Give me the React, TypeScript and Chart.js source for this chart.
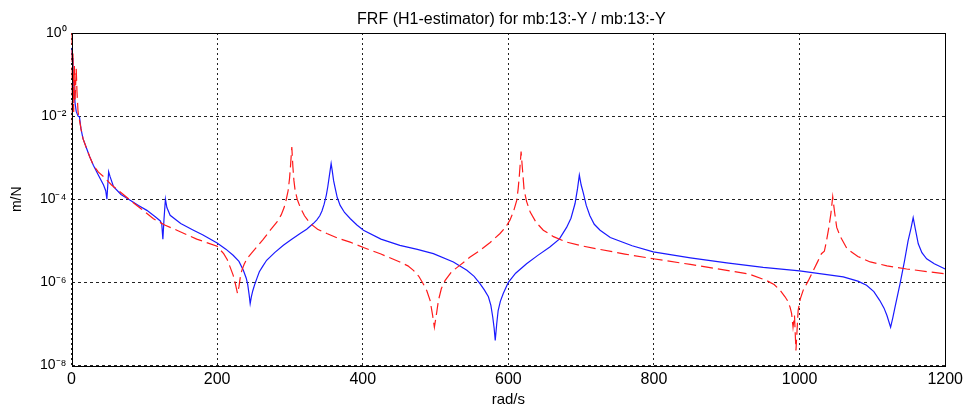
import React, { useEffect, useRef } from 'react';
import { Chart, registerables } from 'chart.js';

Chart.register(...registerables);

const titleText = 'FRF (H1-estimator) for mb:13:-Y / mb:13:-Y';
const xAxisLabel = 'rad/s';
const yAxisLabel = 'm/N';
const xTickValues = [0, 200, 400, 600, 800, 1000, 1200];
const yTickValues = [1e-8, 1e-6, 1e-4, 1e-2, 1];
const yTickLabels = ['10⁻⁸', '10⁻⁶', '10⁻⁴', '10⁻²', '10⁰'];

// blue solid curve (rad/s, m/N)
const blueFreq = [
  0, 1, 2, 3, 4, 5, 6.5, 9, 11, 13, 15.6, 20, 25, 30, 37, 44, 47, 48.6, 51, 53,
  57.7, 68, 80.6, 92, 103.5, 115, 122, 124, 125.5, 127, 129, 131, 135.5, 150, 167.5, 180,
  200, 212, 222, 230, 236, 240, 242, 244, 245.4, 247, 249, 252, 255, 258, 263, 268,
  279, 291, 302, 314, 323, 332, 337, 341, 344, 347, 350, 352, 354, 356.6, 358, 360,
  362, 365, 369, 375, 383, 392, 401, 425, 451, 475, 497, 524.5, 543, 553, 561, 567,
  572.6, 576, 578.6, 580.5, 582, 584, 586, 589, 593, 600, 610, 625, 640, 657, 670, 680,
  686, 691.6, 695, 697.5, 700, 703, 707, 712, 718, 726, 740, 770, 799, 850, 900, 950,
  1000, 1030, 1060, 1080, 1092, 1102, 1110, 1116, 1120, 1125, 1128, 1131, 1138, 1144,
  1149, 1153, 1156, 1159, 1163, 1168, 1174.5, 1185, 1200,
];
const blueMag = [
  4.4e-1, 2.5e-1, 1.2e-1, 6.3e-2, 3.2e-2, 2.0e-2, 1.3e-2, 1.0e-2, 9.5e-3, 5.0e-3, 2.95e-3, 1.8e-3, 1.05e-3, 6.6e-4, 3.8e-4, 2.2e-4, 1.6e-4, 1.0e-4, 4.6e-4, 3.5e-4,
  2.0e-4, 1.3e-4, 9.5e-5, 7.1e-5, 5.4e-5, 3.8e-5, 3.0e-5, 2.5e-5, 1.1e-5, 3.2e-5, 1.0e-4, 6.3e-5, 4.1e-5, 2.6e-5, 1.8e-5, 1.4e-5,
  8.9e-6, 6.3e-6, 4.5e-6, 3.2e-6, 1.95e-6, 1.26e-6, 8.9e-7, 5.0e-7, 3.1e-7, 4.5e-7, 6.3e-7, 9.3e-7, 1.3e-6, 1.8e-6, 2.5e-6, 3.4e-6,
  5.2e-6, 7.8e-6, 1.07e-5, 1.5e-5, 1.9e-5, 2.6e-5, 3.2e-5, 4.0e-5, 5.2e-5, 7.6e-5, 1.26e-4, 2.0e-4, 3.5e-4, 7.2e-4, 5.0e-4, 2.8e-4,
  1.9e-4, 1.1e-4, 7.1e-5, 4.8e-5, 3.4e-5, 2.4e-5, 1.8e-5, 1.1e-5, 7.8e-6, 6.2e-6, 4.9e-6, 3.1e-6, 1.95e-6, 1.4e-6, 9.3e-7, 6.6e-7,
  4.5e-7, 2.8e-7, 1.45e-7, 7.9e-8, 4.0e-8, 1.0e-7, 2.1e-7, 3.5e-7, 5.4e-7, 1.0e-6, 1.66e-6, 2.8e-6, 4.4e-6, 7.1e-6, 1.1e-5, 2.1e-5,
  3.5e-5, 7.9e-5, 1.8e-4, 3.8e-4, 2.2e-4, 1.4e-4, 7.1e-5, 4.0e-5, 2.5e-5, 1.8e-5, 1.2e-5, 7.6e-6, 5.4e-6, 3.9e-6, 2.95e-6, 2.3e-6,
  1.9e-6, 1.6e-6, 1.35e-6, 1.07e-6, 8.5e-7, 6.0e-7, 3.7e-7, 2.4e-7, 1.6e-7, 8.3e-8, 1.4e-7, 2.5e-7, 9.3e-7, 3.2e-6,
  1.0e-5, 2.0e-5, 3.6e-5, 1.9e-5, 8.5e-6, 5.2e-6, 3.7e-6, 2.8e-6, 2.1e-6,
];

// red dashed curve (rad/s, m/N)
const redFreq = [
  0, 1, 2, 3, 4, 5, 6.5, 7.5, 9, 11, 13, 16, 20, 25, 30, 37, 44, 55, 67, 80.6,
  95, 112.6, 128, 144.7, 172, 200, 209, 214, 218, 222, 225, 228, 230, 232, 234, 237,
  241, 247, 254.5, 263, 273, 282, 288, 292, 295, 297.5, 299.5, 301, 302.6, 304, 305.5, 307,
  310, 314, 320, 328, 338, 350.7, 365, 382.7, 401, 425, 451, 462, 469.6, 477, 483, 488,
  492.5, 496, 498.4, 501, 504, 508, 513, 522, 533.7, 547, 561, 575, 588.6, 596, 602, 607,
  611.6, 613.5, 615, 617.5, 619.5, 621.6, 625, 630, 638, 648, 662, 680, 700, 726, 760, 799,
  850, 900, 930, 955, 965, 973, 980, 984, 987, 989, 991, 993, 995, 997, 998, 1001,
  1005, 1012, 1019, 1025, 1030, 1034, 1037, 1040, 1043, 1045.5, 1048, 1051, 1056, 1065,
  1080, 1097, 1120, 1147, 1200,
];
const redMag = [
  1.0, 5.0e-3, 3.2e-1, 1.26e-2, 1.6e-1, 2.5e-2, 1.4e-1, 4.0e-2, 1.26e-2, 7.9e-3, 5.0e-3, 2.8e-3, 1.8e-3, 1.05e-3, 6.6e-4, 4.5e-4, 3.5e-4, 2.2e-4, 1.5e-4, 9.5e-5,
  6.0e-5, 3.4e-5, 2.4e-5, 1.8e-5, 1.1e-5, 7.4e-6, 4.9e-6, 3.5e-6, 2.3e-6, 1.5e-6, 9.3e-7, 5.4e-7, 7.9e-7, 1.4e-6, 1.95e-6, 2.7e-6,
  3.7e-6, 5.0e-6, 7.1e-6, 1.07e-5, 1.8e-5, 2.8e-5, 4.2e-5, 6.3e-5, 1.0e-4, 1.6e-4, 3.2e-4, 7.1e-4, 1.8e-3, 6.3e-4, 2.8e-4, 1.7e-4,
  1.0e-4, 6.5e-5, 4.0e-5, 2.6e-5, 1.9e-5, 1.5e-5, 1.17e-5, 9.3e-6, 6.9e-6, 4.8e-6, 3.1e-6, 2.5e-6, 1.95e-6, 1.4e-6, 9.3e-7, 6.3e-7,
  3.7e-7, 1.6e-7, 8.3e-8, 1.6e-7, 3.7e-7, 7.1e-7, 1.1e-6, 1.8e-6, 2.6e-6, 4.0e-6, 5.9e-6, 9.1e-6, 1.5e-5, 2.1e-5, 3.1e-5, 5.0e-5,
  9.5e-5, 1.8e-4, 3.5e-4, 1.4e-3, 5.0e-4, 1.7e-4, 8.9e-5, 4.9e-5, 2.8e-5, 1.8e-5, 1.26e-5, 9.3e-6, 7.6e-6, 6.2e-6, 4.8e-6, 3.7e-6,
  2.7e-6, 1.95e-6, 1.6e-6, 1.1e-6, 8.9e-7, 6.5e-7, 4.5e-7, 3.5e-7, 2.5e-7, 1.8e-7, 8.3e-8, 1.6e-7, 2.3e-8, 1.0e-7, 2.1e-7, 4.0e-7,
  6.5e-7, 1.1e-6, 1.95e-6, 3.2e-6, 4.9e-6, 5.6e-6, 1.0e-5, 2.0e-5, 4.5e-5, 1.15e-4, 5.0e-5, 2.1e-5, 1.26e-5, 6.5e-6,
  4.2e-6, 3.1e-6, 2.5e-6, 2.1e-6, 1.6e-6,
];

const FONT = '"Liberation Sans", Arial, Helvetica, sans-serif';

const framePlugin = {
  id: 'matlabFrame',
  afterDraw(chart: any) {
    const { ctx, chartArea: a } = chart;
    ctx.save();
    ctx.setLineDash([]);
    ctx.strokeStyle = '#000';
    ctx.lineWidth = 1;
    const l = Math.round(a.left) + 0.5;
    const t = Math.round(a.top) + 0.5;
    const r = Math.round(a.right) + 0.5;
    const b = Math.round(a.bottom) + 0.5;
    ctx.strokeRect(l, t, r - l, b - t);
    ctx.fillStyle = '#000';
    ctx.font = '16px ' + FONT;
    ctx.textAlign = 'center';
    ctx.textBaseline = 'alphabetic';
    ctx.fillText(titleText, (a.left + a.right) / 2 + 3, 24);
    ctx.restore();
  },
};

export default function App() {
  const canvasRef = useRef<HTMLCanvasElement | null>(null);

  useEffect(() => {
    const canvas = canvasRef.current;
    if (!canvas) return;
    const blueData = blueFreq.map((f, i) => ({ x: f, y: blueMag[i] }));
    const redData = redFreq.map((f, i) => ({ x: f, y: redMag[i] }));
    const chart = new Chart(canvas, {
      type: 'line',
      data: {
        datasets: [
          {
            label: 'red',
            data: redData,
            borderColor: '#ff1a1a',
            borderWidth: 1.2,
            borderDash: [12, 5],
            pointRadius: 0,
            tension: 0,
            fill: false,
          },
          {
            label: 'blue',
            data: blueData,
            borderColor: '#1a1aff',
            borderWidth: 1.2,
            pointRadius: 0,
            tension: 0,
            fill: false,
          },
        ],
      },
      options: {
        responsive: false,
        animation: false,
        devicePixelRatio: 1,
        layout: { padding: { top: 33, right: 21, left: 0, bottom: 0 } },
        plugins: {
          legend: { display: false },
          title: { display: false },
          tooltip: { enabled: false },
        },
        scales: {
          x: {
            type: 'linear',
            min: 0,
            max: 1200,
            afterBuildTicks: (scale: any) => {
              scale.ticks = xTickValues.map((v) => ({ value: v }));
            },
            afterFit: (scale: any) => {
              scale.height = 41.5;
            },
            grid: {
              color: '#222',
              lineWidth: 1,
              drawTicks: false,
            },
            border: { display: false, dash: [2, 3] },
            ticks: {
              padding: 4,
              color: '#000',
              font: { family: FONT, size: 16 },
              maxRotation: 0,
              callback: (v: any) => String(v),
            },
            title: {
              display: true,
              text: xAxisLabel,
              color: '#000',
              font: { family: FONT, size: 15, lineHeight: 1.0 },
              padding: { top: 0, bottom: 0 },
            },
          },
          y: {
            type: 'logarithmic',
            min: 1e-8,
            max: 1,
            afterBuildTicks: (scale: any) => {
              scale.ticks = yTickValues.map((v) => ({ value: v }));
            },
            afterFit: (scale: any) => {
              scale.width = 71.5;
            },
            grid: {
              color: '#222',
              lineWidth: 1,
              drawTicks: false,
            },
            border: { display: false, dash: [3, 3] },
            ticks: {
              padding: 5,
              color: '#000',
              font: { family: FONT, size: 14 },
              callback: (v: any) => {
                const idx = yTickValues.indexOf(Number(v));
                return idx >= 0 ? yTickLabels[idx] : '';
              },
            },
            title: {
              display: true,
              text: yAxisLabel,
              color: '#000',
              font: { family: FONT, size: 14 },
              padding: { top: 9, bottom: 0 },
            },
          },
        },
      },
      plugins: [framePlugin],
    } as any);
    return () => chart.destroy();
  }, []);

  return (
    <div style={{ position: 'fixed', left: 0, top: 0, width: 967, height: 407, background: '#fff' }}>
      <canvas ref={canvasRef} width={967} height={407} style={{ display: 'block' }} />
    </div>
  );
}
